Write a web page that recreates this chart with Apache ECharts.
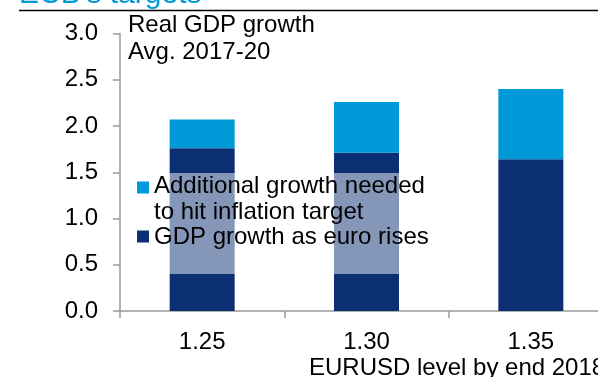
<!DOCTYPE html>
<html>
<head>
<meta charset="utf-8">
<script src="https://cdn.jsdelivr.net/npm/echarts@6/dist/echarts.min.js"></script>
<style>
  html, body { margin: 0; padding: 0; background: #ffffff; }
  #chart { width: 598px; height: 377px; }
</style>
</head>
<body>
<div id="chart"></div>
<script>
// EURUSD level reached by end 2018
const categories = ['1.25', '1.30', '1.35'];
// Real GDP growth, avg. 2017-20 (%), as the euro rises
const gdpAsEuroRises = [1.76, 1.71, 1.64];
// Extra growth still required to reach the inflation target (%)
const additionalNeeded = [0.31, 0.55, 0.76];

const seriesNames = {
  extra: 'Additional growth needed\nto hit inflation target',
  base: 'GDP growth as euro rises'
};

const FONT = '"Liberation Sans", Arial, Helvetica, sans-serif';
const NAVY = '#0b2f72';
const CYAN = '#0099d8';
const AXIS_GREY = '#9a9a9a';

// Legend markers: a 12px square placed inside a 12x38 box, so the square lines up
// with the first text line of each entry.
const iconTopLine = 'path://M0,1.5h12v12h-12z M0,0l0.01,0 M0,38l0.01,0';
const iconSingle  = 'path://M0,12.5h12v12h-12z M0,0l0.01,0 M0,38l0.01,0';

const chart = echarts.init(document.getElementById('chart'), null, { renderer: 'canvas' });

chart.setOption({
  animation: false,
  backgroundColor: '#ffffff',
  textStyle: { fontFamily: FONT },
  title: [
    {
      text: "ECB's targets",
      left: 19,
      top: -20,
      padding: 0,
      textStyle: { color: CYAN, fontSize: 30, fontWeight: 'normal', fontFamily: FONT, lineHeight: 30 }
    },
    {
      text: 'Real GDP growth\nAvg. 2017-20',
      left: 128,
      top: 12,
      padding: 0,
      textStyle: { color: '#000', fontSize: 24, fontWeight: 'normal', fontFamily: FONT, lineHeight: 27 }
    }
  ],
  graphic: [
    {
      type: 'line',
      shape: { x1: 19, y1: 10.5, x2: 598, y2: 10.5 },
      style: { stroke: '#000', lineWidth: 1.4 },
      z: 10
    },
    {
      type: 'text',
      left: 309,
      top: 356,
      style: { text: 'EURUSD level by end 2018', fill: '#000', font: '24px ' + FONT },
      z: 10
    }
  ],
  legend: {
    orient: 'vertical',
    left: 130,
    top: 173,
    padding: [0, 5, 18, 7],
    itemGap: -7,
    itemWidth: 12,
    itemHeight: 38,
    backgroundColor: 'rgba(255,255,255,0.5)',
    selectedMode: false,
    textStyle: { color: '#000', fontSize: 24, lineHeight: 26, fontFamily: FONT },
    data: [
      { name: seriesNames.extra, icon: iconTopLine },
      { name: seriesNames.base, icon: iconSingle }
    ]
  },
  grid: { left: 120, top: 33.5, bottom: 66, width: 493, outerBoundsMode: 'none', containLabel: false },
  xAxis: {
    type: 'category',
    data: categories,
    axisLine: { show: true, lineStyle: { color: AXIS_GREY, width: 1.5 } },
    axisTick: { show: true, length: 7, lineStyle: { color: AXIS_GREY, width: 1.5 } },
    axisLabel: { color: '#000', fontSize: 24, margin: 19, fontFamily: FONT },
    splitLine: { show: false }
  },
  yAxis: {
    type: 'value',
    min: 0,
    max: 3,
    interval: 0.5,
    axisLine: { show: true, lineStyle: { color: AXIS_GREY, width: 1.5 } },
    axisTick: { show: true, length: 7, lineStyle: { color: AXIS_GREY, width: 1.5 } },
    axisLabel: {
      color: '#000', fontSize: 24, margin: 22, fontFamily: FONT,
      formatter: v => v.toFixed(1)
    },
    splitLine: { show: false }
  },
  series: [
    {
      name: seriesNames.base,
      type: 'bar',
      stack: 'growth',
      data: gdpAsEuroRises,
      barWidth: 65,
      itemStyle: { color: NAVY }
    },
    {
      name: seriesNames.extra,
      type: 'bar',
      stack: 'growth',
      data: additionalNeeded,
      barWidth: 65,
      itemStyle: { color: CYAN }
    }
  ]
});
</script>
</body>
</html>
